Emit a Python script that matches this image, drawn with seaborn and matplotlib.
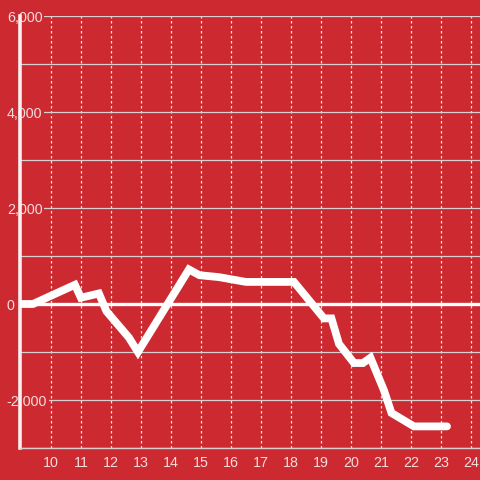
import matplotlib
matplotlib.use("Agg")
import matplotlib.pyplot as plt
import seaborn as sns
import pandas as pd
from matplotlib.ticker import FuncFormatter, MultipleLocator

hours = [9.0, 9.4, 10.8, 11.0, 11.6, 11.85, 12.6, 12.9, 14.6, 14.95, 15.6, 16.5,
         18.1, 19.1, 19.35, 19.6, 20.1, 20.4, 20.65, 21.1, 21.35, 22.1, 23.2]
values = [0, 0, 400, 130, 220, -150, -700, -1000, 720, 600, 560, 460,
          460, -300, -300, -830, -1230, -1230, -1120, -1800, -2270, -2550, -2550]
x_ticks = list(range(10, 25))
y_ticks = [-2000, 0, 2000, 4000, 6000]

BG = "#cc2a30"
TXT = "#f6dcdc"

sns.set_theme(style="white")
plt.rcParams['font.family'] = ['Liberation Sans', 'DejaVu Sans']

df = pd.DataFrame({"hour": hours, "value": values})

fig = plt.figure(figsize=(4.8, 4.8), dpi=100, facecolor=BG)
ax = fig.add_axes([20/480, 32/480, 460/480, 432/480])
ax.set_facecolor(BG)

ax.set_xlim(8.97, 24.3)
ax.set_ylim(-3000, 6000)

ax.set_xticks(x_ticks)
ax.yaxis.set_minor_locator(MultipleLocator(1000))
ax.set_yticks(y_ticks)

ax.grid(axis='x', which='major', color='#f0e0e0', linestyle=(0, (2, 2)), linewidth=0.9)
ax.grid(axis='y', which='both', color='#d8d0d0', linestyle='-', linewidth=0.9)
ax.set_axisbelow(True)

ax.axhline(0, color='white', linewidth=2.4, zorder=1.5)

sns.lineplot(data=df, x="hour", y="value", ax=ax, color='white', linewidth=5.6,
             solid_joinstyle='miter', zorder=3)

ax.set_xlabel("")
ax.set_ylabel("")

for s in ['top', 'right']:
    ax.spines[s].set_visible(False)
ax.spines['left'].set_color('#f4f0f0')
ax.spines['left'].set_linewidth(2.6)
ax.spines['bottom'].set_color('#d8d0d0')
ax.spines['bottom'].set_linewidth(1.0)

ax.yaxis.set_major_formatter(FuncFormatter(lambda v, p: f"{int(v):,}"))
ax.tick_params(axis='both', which='both', length=0)
ax.tick_params(axis='x', pad=6, labelsize=10.3, labelcolor=TXT)
ax.tick_params(axis='y', pad=9.5, labelsize=10.3, labelcolor=TXT)

for lab in ax.get_yticklabels():
    lab.set_horizontalalignment('left')
    lab.set_bbox(dict(facecolor=BG, edgecolor='none', pad=1.2))

fig.savefig("out.png", dpi=100, facecolor=BG)
